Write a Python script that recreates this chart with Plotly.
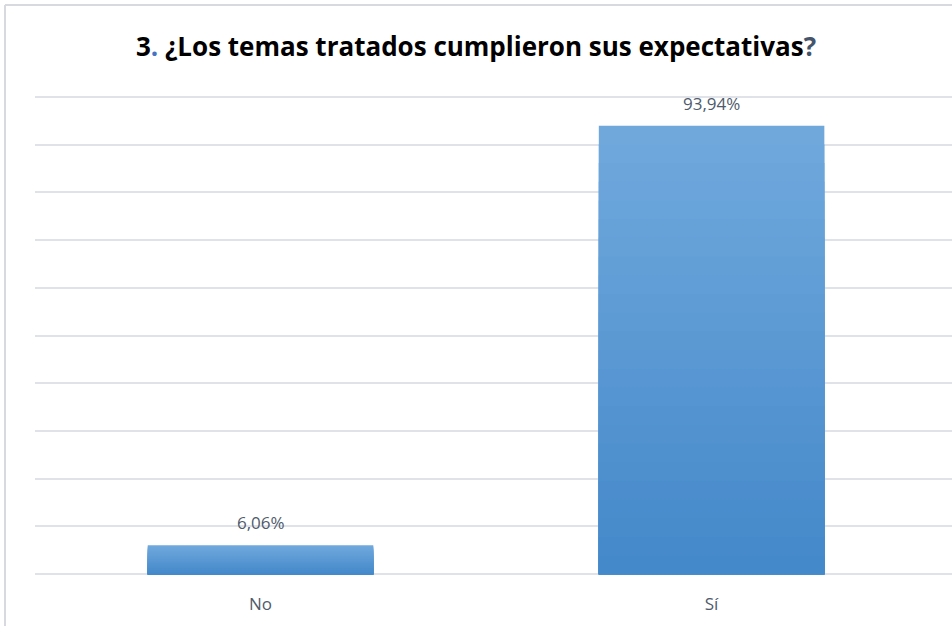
import plotly.graph_objects as go

categories = ["No", "Sí"]
values = [6.06, 93.94]
labels = ["6,06%", "93,94%"]

# gradient steps for the bars (light at top, darker at bottom)
top_rgb = (112, 168, 220)
bottom_rgb = (68, 137, 202)
steps = 24

fig = go.Figure()
for i in range(steps):
    k = 1 - i / steps
    t = i / (steps - 1)
    c = tuple(round(a + (b - a) * t) for a, b in zip(top_rgb, bottom_rgb))
    fig.add_trace(go.Bar(
        x=categories, y=[v * k for v in values],
        marker=dict(color=f"rgb{c}", line=dict(width=0)),
        width=0.5, hoverinfo="skip", showlegend=False,
    ))

for cat, val, lab in zip(categories, values, labels):
    fig.add_annotation(
        x=cat, y=val, text=lab, showarrow=False,
        yanchor="bottom", yshift=9,
        font=dict(family="Open Sans", size=17, color="#4f5b6b"),
    )

fig.update_layout(
    width=952, height=626,
    barmode="overlay",
    paper_bgcolor="white", plot_bgcolor="white",
    margin=dict(l=35, r=0, t=92, b=47),
    title=dict(
        text="<b>3<span style='color:#4472c4'>.</span> ¿Los temas tratados cumplieron sus expectativas"
             "<span style='color:#44546a'>?</span></b>",
        x=0.5, xanchor="center", y=0.925, yanchor="middle",
        font=dict(family="Open Sans", size=26, color="black"),
    ),
    xaxis=dict(
        range=[-0.5, 1.533], showgrid=False, zeroline=False, showline=False,
        ticks="", ticklabelstandoff=13,
        tickfont=dict(family="Open Sans", size=17, color="#4f5b6b"),
    ),
    yaxis=dict(
        range=[-1, 101], dtick=10, showticklabels=False,
        showgrid=True, gridcolor="#dfe2e8", gridwidth=2,
        zeroline=False, showline=False,
    ),
    shapes=[
        dict(type="line", xref="paper", yref="paper", x0=-0.0327, x1=1.0, y0=1.1786, y1=1.1786,
             line=dict(color="#d6d9e0", width=2)),
        dict(type="line", xref="paper", yref="paper", x0=-0.0327, x1=-0.0327, y0=1.1786, y1=-0.2,
             line=dict(color="#d6d9e0", width=2)),
    ],
)

fig.write_html("out.html", config={"displayModeBar": False},
               post_script="document.body.style.margin='0';")
